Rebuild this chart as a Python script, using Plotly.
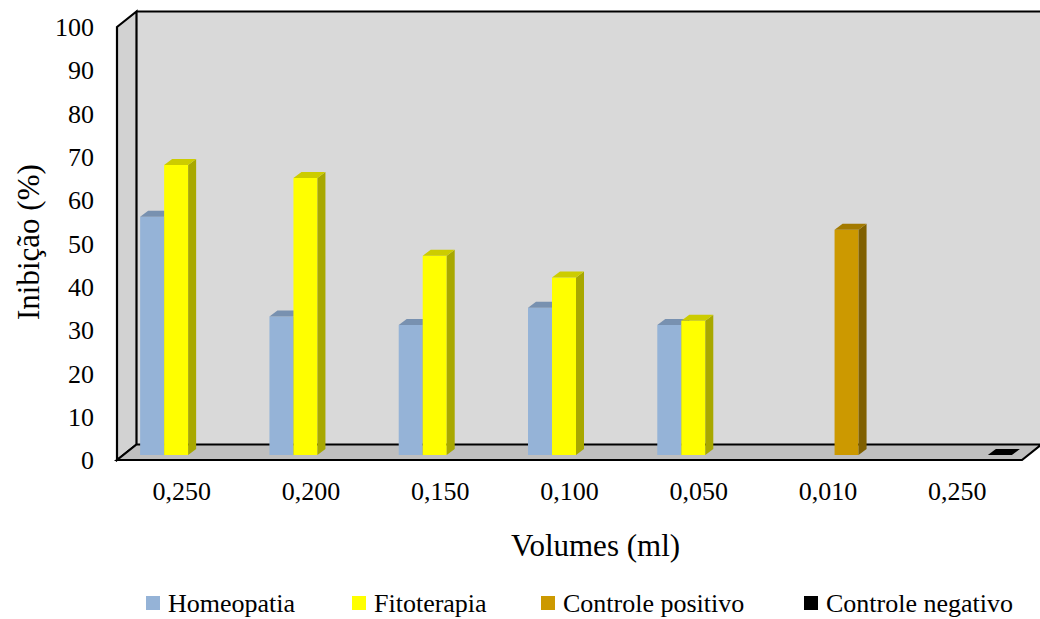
import plotly.graph_objects as go

# ---------------- data ----------------
categories = ["0,250", "0,200", "0,150", "0,100", "0,050", "0,010", "0,250"]
series_names = ["Homeopatia", "Fitoterapia", "Controle positivo", "Controle negativo"]
homeopatia = [55, 32, 30, 34, 30, None, None]
fitoterapia = [67, 64, 46, 41, 31, None, None]
controle_positivo = [None, None, None, None, None, 52, None]
controle_negativo = [None, None, None, None, None, None, 0]
y_ticks = [0, 10, 20, 30, 40, 50, 60, 70, 80, 90, 100]

series_values = [homeopatia, fitoterapia, controle_positivo, controle_negativo]

# ---------------- style ----------------
W, H = 1040, 619
FONT = "Liberation Serif"
front_col = ["#95B3D7", "#FFFF00", "#CC9900", "#000000"]
top_col = ["#7891B0", "#CCCC00", "#A37A00", "#000000"]
side_col = ["#64778F", "#A8A800", "#806000", "#000000"]

# pixel geometry of the pseudo-3D box
FX0, FX1 = 117, 1022        # front plane x extent
FY0, FY100 = 460, 27        # front plane y for 0 and 100
DX, DY = 19.5, 15.5         # full depth offset (right, up)
BAR_SHIFT_X, BAR_SHIFT_Y = 6.5, 5   # bar front plane offset
BAR_DX, BAR_DY = 8, 6       # bar depth
SLOT_PX = 24                # width of one bar in px

def fx(px):
    return px / W

def fy(py):
    return 1 - py / H

n_cat = len(categories)
x_range = [-0.5, n_cat - 0.5]
px_per_x = (FX1 - FX0) / n_cat
px_per_y = (FY0 - FY100) / 100.0
slot = SLOT_PX / px_per_x
ddx = BAR_DX / px_per_x
ddy = BAR_DY / px_per_y
n_ser = len(series_values)

fig = go.Figure()

# invisible trace to anchor the front axes
fig.add_trace(go.Scatter(x=[None], y=[None], xaxis="x", yaxis="y",
                         showlegend=False, hoverinfo="skip"))

xs = list(range(n_cat))
for k, vals in enumerate(series_values):
    ax_x = "x%d" % (k + 2)
    ax_y = "y%d" % (k + 2)
    offset = -n_ser * slot / 2 + k * slot
    # front faces
    fig.add_trace(go.Bar(x=xs, y=vals, offset=offset, width=slot,
                         marker=dict(color=front_col[k], line=dict(width=0)),
                         name=series_names[k], showlegend=False,
                         xaxis=ax_x, yaxis=ax_y))
    # top & side faces
    tx, ty, sx, sy = [], [], [], []
    for i, v in enumerate(vals):
        if v is None:
            continue
        x0 = i + offset
        x1 = x0 + slot
        tx += [x0, x0 + ddx, x1 + ddx, x1, x0, None]
        ty += [v, v + ddy, v + ddy, v, v, None]
        sx += [x1, x1 + ddx, x1 + ddx, x1, x1, None]
        sy += [0, ddy, v + ddy, v, 0, None]
    fig.add_trace(go.Scatter(x=sx, y=sy, fill="toself", mode="lines",
                             line=dict(width=0, color=side_col[k]),
                             fillcolor=side_col[k], hoverinfo="skip",
                             showlegend=False, xaxis=ax_x, yaxis=ax_y))
    fig.add_trace(go.Scatter(x=tx, y=ty, fill="toself", mode="lines",
                             line=dict(width=0, color=top_col[k]),
                             fillcolor=top_col[k], hoverinfo="skip",
                             showlegend=False, xaxis=ax_x, yaxis=ax_y))

# ---------------- axes ----------------
layout = dict(
    width=W, height=H, autosize=False,
    margin=dict(l=0, r=0, t=0, b=0, pad=0),
    paper_bgcolor="white", plot_bgcolor="rgba(0,0,0,0)",
    font=dict(family=FONT, size=26, color="black"),
    showlegend=False,
    xaxis=dict(domain=[fx(FX0), fx(FX1)], range=x_range, tickvals=xs,
               ticktext=categories, showgrid=False, zeroline=False,
               showline=False, ticks="", ticklabelstandoff=13,
               tickfont=dict(size=26, family=FONT), automargin=False,
               fixedrange=True),
    yaxis=dict(domain=[fy(FY0), fy(FY100)], range=[0, 100], tickvals=y_ticks,
               showgrid=False, zeroline=False, showline=False, ticks="",
               ticklabelstandoff=22, tickfont=dict(size=26, family=FONT),
               automargin=False, fixedrange=True),
)
bx = [fx(FX0 + BAR_SHIFT_X), fx(FX1 + BAR_SHIFT_X)]
by = [fy(FY0 - BAR_SHIFT_Y), fy(FY100 - BAR_SHIFT_Y)]
for k in range(n_ser):
    xa = dict(range=x_range, visible=False, fixedrange=True)
    ya = dict(range=[0, 100], visible=False, fixedrange=True)
    if k == 0:
        xa.update(domain=bx, anchor="y2")
        ya.update(domain=by, anchor="x2")
    else:
        xa.update(overlaying="x2", anchor="y%d" % (k + 2))
        ya.update(overlaying="y2", anchor="x%d" % (k + 2))
    layout["xaxis%d" % (k + 2)] = xa
    layout["yaxis%d" % (k + 2)] = ya

# ---------------- walls (3D box) ----------------
def path(pts):
    return "M " + " L ".join("%f,%f" % (fx(a), fy(b)) for a, b in pts) + " Z"

BX0, BY0, BY100 = FX0 + DX, FY0 - DY, FY100 - DY
shapes = [
    # back wall
    dict(type="path", xref="paper", yref="paper", layer="below",
         path=path([(BX0, BY100), (W + 10, BY100), (W + 10, BY0), (BX0, BY0)]),
         fillcolor="#D9D9D9", line=dict(width=0)),
    # left wall
    dict(type="path", xref="paper", yref="paper", layer="below",
         path=path([(FX0, FY100), (BX0, BY100), (BX0, BY0), (FX0, FY0)]),
         fillcolor="#D2D2D2", line=dict(color="black", width=2.2)),
    # floor
    dict(type="path", xref="paper", yref="paper", layer="below",
         path=path([(FX0, FY0), (BX0, BY0), (FX1 + DX, BY0), (FX1, FY0)]),
         fillcolor="#BFBFBF", line=dict(color="black", width=2.2)),
    # back wall top edge
    dict(type="line", xref="paper", yref="paper", layer="below",
         x0=fx(BX0), x1=fx(W + 10), y0=fy(BY100), y1=fy(BY100),
         line=dict(color="black", width=2.2)),
]

# ---------------- legend (manual) ----------------
legend_x = [146, 352, 541, 804]
legend_y = 603
SQ = 14
annotations = []
for k, name in enumerate(series_names):
    lx = legend_x[k]
    shapes.append(dict(type="rect", xref="paper", yref="paper",
                       x0=fx(lx), x1=fx(lx + SQ), y0=fy(legend_y + SQ / 2),
                       y1=fy(legend_y - SQ / 2), fillcolor=front_col[k],
                       line=dict(width=0)))
    annotations.append(dict(text=name, xref="paper", yref="paper",
                            x=fx(lx + SQ + 6), y=fy(legend_y), xanchor="left",
                            yanchor="middle", showarrow=False,
                            font=dict(size=26, family=FONT, color="black")))

# axis titles
annotations.append(dict(text="Volumes (ml)", xref="paper", yref="paper",
                        x=fx(595), y=fy(545), xanchor="center", yanchor="middle",
                        showarrow=False, font=dict(size=31, family=FONT)))
annotations.append(dict(text="Inibição (%)", xref="paper", yref="paper",
                        x=fx(28), y=fy(242), xanchor="center", yanchor="middle",
                        textangle=-90, showarrow=False,
                        font=dict(size=31, family=FONT)))

layout["shapes"] = shapes
layout["annotations"] = annotations
fig.update_layout(**layout)

fig.write_html("out.html")
